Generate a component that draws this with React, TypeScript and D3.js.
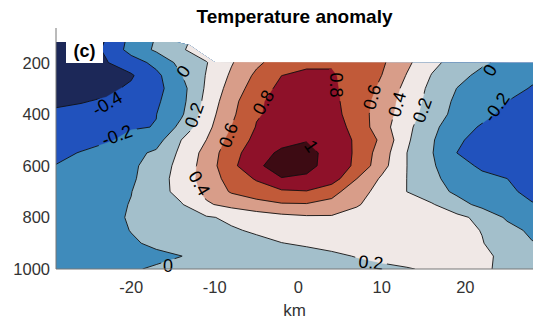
import React from "react";
import * as d3 from "d3";

// Horizontal distance (km) of each grid column and pressure (hPa) of each grid row
const kmColumns = [-29, -26, -23, -20, -17, -14, -11, -8, -5, -2, 1, 4, 7, 10, 13, 16, 19, 22, 25, 28];
const pressureRows = [100, 150, 200, 250, 300, 350, 400, 450, 500, 550, 600, 650, 700, 750, 800, 850, 900, 950, 1000];

// Temperature anomaly (K), one row per pressure level, one value per km column
const anomalyRows: number[][] = [
  [-0.56, -0.5, -0.4, -0.15, 0.01, 0.15, 0.28, 0.4, 0.56, 0.7, 0.77, 0.78, 0.72, 0.63, 0.44, 0.25, 0.12, 0.03, -0.06, -0.13],
  [-0.55, -0.48, -0.38, -0.12, 0.03, 0.18, 0.3, 0.42, 0.56, 0.7, 0.77, 0.78, 0.72, 0.63, 0.44, 0.25, 0.12, 0.03, -0.06, -0.13],
  [-0.5, -0.47, -0.41, -0.3, -0.14, 0.06, 0.19, 0.385, 0.56, 0.7, 0.77, 0.78, 0.72, 0.63, 0.44, 0.25, 0.12, 0.03, -0.06, -0.13],
  [-0.52, -0.5, -0.46, -0.42, -0.25, -0.01, 0.21, 0.43, 0.64, 0.799, 0.83, 0.82, 0.72, 0.599, 0.39, 0.19, 0.06, -0.05, -0.12, -0.17],
  [-0.5, -0.47, -0.44, -0.37, -0.26, -0.07, 0.23, 0.48, 0.7, 0.85, 0.86, 0.83, 0.72, 0.56, 0.34, 0.15, -0.003, -0.07, -0.15, -0.21],
  [-0.43, -0.41, -0.38, -0.32, -0.23, -0.06, 0.26, 0.53, 0.77, 0.86, 0.87, 0.85, 0.7, 0.52, 0.31, 0.13, -0.04, -0.12, -0.199, -0.3],
  [-0.37, -0.35, -0.32, -0.27, -0.203, -0.03, 0.3, 0.56, 0.785, 0.85, 0.88, 0.87, 0.7, 0.5, 0.29, 0.1, -0.06, -0.15, -0.25, -0.32],
  [-0.33, -0.3, -0.27, -0.215, -0.195, 0.06, 0.339, 0.601, 0.81, 0.88, 0.92, 0.9, 0.73, 0.48, 0.25, 0.05, -0.12, -0.22, -0.3, -0.33],
  [-0.29, -0.26, -0.225, -0.145, -0.08, 0.201, 0.401, 0.674, 0.85, 0.93, 0.99, 0.92, 0.77, 0.56, 0.23, 0.02, -0.17, -0.27, -0.32, -0.34],
  [-0.24, -0.192, -0.121, -0.051, 0.03, 0.242, 0.467, 0.73, 0.906, 1.04, 1.06, 0.93, 0.77, 0.5, 0.201, 0.01, -0.201, -0.27, -0.32, -0.34],
  [-0.195, -0.138, -0.09, -0.04, 0.094, 0.264, 0.489, 0.75, 0.96, 1.1, 1.05, 0.93, 0.76, 0.47, 0.201, 0.02, -0.11, -0.24, -0.3, -0.32],
  [-0.17, -0.125, -0.08, -0.03, 0.114, 0.28, 0.49, 0.674, 0.82, 0.99, 0.97, 0.9, 0.601, 0.37, 0.199, 0.05, -0.09, -0.14, -0.199, -0.28],
  [-0.16, -0.108, -0.056, -0.004, 0.118, 0.267, 0.448, 0.62, 0.7, 0.77, 0.79, 0.67, 0.48, 0.33, 0.199, 0.09, -0.04, -0.1, -0.17, -0.24],
  [-0.15, -0.099, -0.047, 0.007, 0.096, 0.186, 0.375, 0.46, 0.53, 0.58, 0.585, 0.54, 0.41, 0.35, 0.28, 0.215, 0.08, -0.06, -0.14, -0.19],
  [-0.14, -0.089, -0.039, 0.0135, 0.07, 0.126, 0.182, 0.23, 0.29, 0.34, 0.37, 0.375, 0.36, 0.33, 0.3, 0.265, 0.245, 0.15, -0.03, -0.12],
  [-0.13, -0.085, -0.041, 0.0036, 0.049, 0.094, 0.139, 0.184, 0.22, 0.26, 0.29, 0.31, 0.32, 0.32, 0.31, 0.28, 0.245, 0.195, 0.07, -0.04],
  [-0.12, -0.085, -0.049, -0.014, 0.021, 0.056, 0.092, 0.127, 0.162, 0.197, 0.22, 0.24, 0.255, 0.265, 0.265, 0.255, 0.235, 0.207, 0.12, 0.01],
  [-0.11, -0.088, -0.066, -0.045, -0.023, -0.001, 0.029, 0.058, 0.088, 0.118, 0.148, 0.177, 0.206, 0.23, 0.245, 0.25, 0.245, 0.225, 0.17, 0.07],
  [-0.1, -0.07, -0.04, -0.01, 0.012, 0.03, 0.048, 0.066, 0.084, 0.102, 0.12, 0.138, 0.157, 0.175, 0.193, 0.215, 0.23, 0.21, 0.185, 0.12],
];

// Contour levels and the fill of each band (below the first level, then above each level)
const contourLevels = [-0.4, -0.2, 0, 0.2, 0.4, 0.6, 0.8, 1];
const bandColors = ["#1c2858", "#2152bd", "#3f8bbb", "#a3bfcb", "#f0e8e6", "#d89d89", "#c15a39", "#8e1129", "#3d0b13"];

// Upper edge of the valid data (km, hPa)
const topEdgeKm = [-29, -14.5, -13, -11.8, -10.9, -10.0, 28.1];
const topEdgeP = [120, 120, 132, 159, 178, 198, 201];

const xTickValues = [-20, -10, 0, 10, 20];
const yTickValues = [200, 400, 600, 800, 1000];

// Where each inline contour label sits (km, hPa) and its rotation
const labelPlacements = [
  { level: -0.4, km: -22.9, p: 357, angle: -30 },
  { level: -0.2, km: -21.7, p: 481, angle: -20 },
  { level: 0, km: -13.8, p: 233, angle: -55 },
  { level: 0.2, km: -12.5, p: 403, angle: -70 },
  { level: 0.6, km: -8.4, p: 481, angle: -70 },
  { level: 0.8, km: -4.2, p: 353, angle: -60 },
  { level: 0.8, km: 4.6, p: 287, angle: 90 },
  { level: 0.6, km: 8.8, p: 333, angle: -75 },
  { level: 0.4, km: 11.8, p: 361, angle: -75 },
  { level: 0.2, km: 14.8, p: 384, angle: -70 },
  { level: 0, km: 22.9, p: 229, angle: -60 },
  { level: -0.2, km: 23.7, p: 372, angle: -55 },
  { level: 0.4, km: -11.8, p: 667, angle: 60 },
  { level: 1, km: 1.6, p: 523, angle: 55 },
  { level: 0, km: -15.6, p: 988, angle: 0 },
  { level: 0.2, km: 8.7, p: 973, angle: 5 },
];

const FONT = "'Liberation Sans', Arial, Helvetica, sans-serif";

export default function App() {
  const W = 539;
  const H = 324;
  const x = d3.scaleLinear().domain([-29, 28.1]).range([56, 533]);
  const y = d3.scaleLinear().domain([66, 1000]).range([28, 269]);

  // Grid padded by one cell on every side so contour outlines close outside the plot
  const nx = kmColumns.length;
  const ny = pressureRows.length;
  const dkm = kmColumns[1] - kmColumns[0];
  const dp = pressureRows[1] - pressureRows[0];
  const padded: number[] = [];
  for (let j = -1; j <= ny; j++) {
    for (let i = -1; i <= nx; i++) {
      const jj = Math.max(0, Math.min(ny - 1, j));
      const ii = Math.max(0, Math.min(nx - 1, i));
      padded.push(anomalyRows[jj][ii]);
    }
  }
  const bands = d3.contours().size([nx + 2, ny + 2]).thresholds(contourLevels)(padded);

  const toScreen = d3.geoTransform({
    point(px: number, py: number) {
      const i = px - 1.5;
      const j = py - 1.5;
      (this as any).stream.point(x(kmColumns[0] + i * dkm), y(pressureRows[0] + j * dp));
    },
  });
  const path = d3.geoPath(toScreen);

  const x0 = x(-29);
  const x1 = x(28.1);
  const yb = y(1000);
  const clipPts = topEdgeKm.map((k, i) => [x(k), y(topEdgeP[i])]);
  clipPts.push([x1, yb], [x0, yb]);
  const clipD = "M" + clipPts.map((p) => p.join(",")).join("L") + "Z";

  const labelFs = 18;
  const labels = labelPlacements.map((l) => {
    const text = String(l.level);
    return {
      text,
      cx: x(l.km),
      cy: y(l.p),
      angle: l.angle,
      w: text.length * labelFs * 0.52 + 4,
      h: labelFs * 0.85,
    };
  });

  return (
    <svg
      width={W}
      height={H}
      viewBox={`0 0 ${W} ${H}`}
      style={{ position: "absolute", left: 0, top: 0, background: "#fff" }}
      fontFamily={FONT}
    >
      <defs>
        <clipPath id="dataArea">
          <path d={clipD} />
        </clipPath>
        <mask id="labelGaps" maskUnits="userSpaceOnUse" x={0} y={0} width={W} height={H}>
          <rect x={0} y={0} width={W} height={H} fill="#fff" />
          {labels.map((l, i) => (
            <rect
              key={i}
              x={-l.w / 2}
              y={-l.h / 2}
              width={l.w}
              height={l.h}
              fill="#000"
              transform={`translate(${l.cx},${l.cy}) rotate(${l.angle})`}
            />
          ))}
        </mask>
      </defs>

      <g clipPath="url(#dataArea)">
        <rect x={x0 - 20} y={0} width={x1 - x0 + 40} height={yb + 20} fill={bandColors[0]} />
        {bands.map((b, i) => (
          <path key={i} d={path(b as any) || ""} fill={bandColors[i + 1]} stroke={bandColors[i + 1]} strokeWidth={0.3} />
        ))}
        <g mask="url(#labelGaps)">
          {bands.map((b, i) => (
            <path key={i} d={path(b as any) || ""} fill="none" stroke="#111" strokeWidth={0.9} />
          ))}
        </g>
      </g>

      {labels.map((l, i) => (
        <text
          key={i}
          transform={`translate(${l.cx},${l.cy}) rotate(${l.angle})`}
          textAnchor="middle"
          dy="0.36em"
          fontSize={labelFs}
          fill="#000"
        >
          {l.text}
        </text>
      ))}

      {/* axes */}
      <line x1={x0} x2={x0} y1={28} y2={yb} stroke="#777" strokeWidth={1} />
      <line x1={x0} x2={x1} y1={yb} y2={yb} stroke="#777" strokeWidth={1} />
      {yTickValues.map((t) => (
        <text key={t} x={50} y={y(t)} dy="0.36em" textAnchor="end" fontSize={16.5} fill="#333">
          {t}
        </text>
      ))}
      {xTickValues.map((t) => (
        <text key={t} x={x(t)} y={293} textAnchor="middle" fontSize={16.5} fill="#333">
          {t}
        </text>
      ))}
      <text x={(x0 + x1) / 2} y={316} textAnchor="middle" fontSize={17} fill="#333">
        km
      </text>

      {/* panel tag */}
      <rect x={66} y={38} width={37} height={25} fill="#fff" />
      <text x={84.5} y={50.5} dy="0.36em" textAnchor="middle" fontSize={18} fontWeight="bold" fill="#000">
        (c)
      </text>

      <text x={(x0 + x1) / 2} y={23} textAnchor="middle" fontSize={19} fontWeight="bold" fill="#000">
        Temperature anomaly
      </text>
    </svg>
  );
}
